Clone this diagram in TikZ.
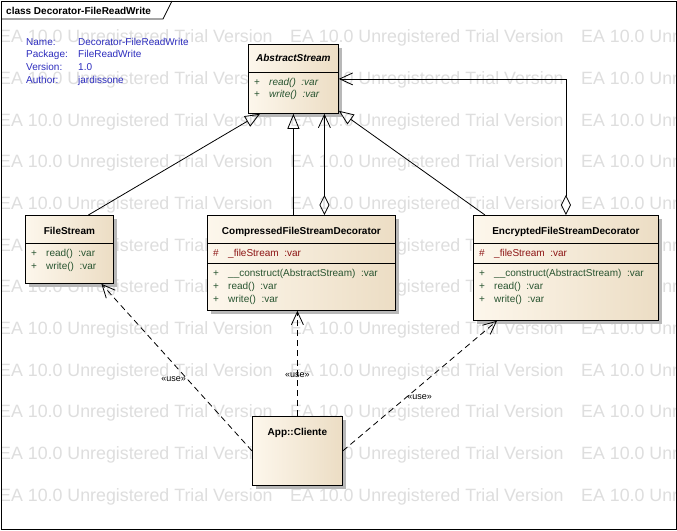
\documentclass[tikz,border=0pt]{standalone}
\usepackage{fontspec}
\setmainfont{Liberation Sans}
\usetikzlibrary{arrows.meta,shadows,calc}
\definecolor{boxleft}{RGB}{253,247,236}
\definecolor{boxright}{RGB}{236,221,196}
\definecolor{opgreen}{RGB}{40,84,48}
\definecolor{attred}{RGB}{140,20,20}
\definecolor{hdrblue}{RGB}{45,45,190}
\definecolor{wmgray}{RGB}{222,222,222}
\tikzset{
  cls/.style={draw, line width=0.8pt, left color=boxleft, right color=boxright,
    drop shadow={shadow xshift=3.5pt, shadow yshift=-3.5pt, fill=black!28, opacity=1},
    inner sep=0pt, anchor=north west},
  ctitle/.style={font=\fontsize{10}{12}\selectfont\bfseries, inner sep=0pt, text height=7pt, text depth=0pt},
  crow/.style={font=\fontsize{10}{12}\selectfont, inner sep=0pt, anchor=west, text=opgreen, text height=7pt, text depth=0pt},
  hdr/.style={font=\fontsize{10}{12}\selectfont, inner sep=0pt, anchor=west, text=hdrblue, text height=7pt, text depth=0pt},
  wm/.style={font=\fontsize{17.8}{20}\selectfont, text=wmgray, anchor=west, inner sep=0pt},
  gen/.style={line width=0.8pt, -{Triangle[open, length=15pt, width=12pt]}},
  agg/.style={line width=0.8pt, {Diamond[open, length=20pt, width=10pt]}-{Straight Barb[length=13pt, width=12pt]}},
  usedep/.style={line width=0.8pt, dash pattern=on 6pt off 4pt, -{Straight Barb[length=13pt, width=12pt]}},
  stereo/.style={font=\fontsize{9}{10}\selectfont, inner sep=1pt},
}
\begin{document}
\begin{tikzpicture}[x=1pt,y=-1pt]
\useasboundingbox (0,0) rectangle (677,530);
\fill[white] (0,0) rectangle (677,530);

\begin{scope}
  \clip (1,1) rectangle (676,529);
  \foreach \r in {0,...,11}
    \foreach \c in {0,1,2}
      \node[wm] (wm-\r-\c) at (-1+291*\c, 38+41.7*\r) {EA 10.0 Unregistered Trial Version};
\end{scope}

\draw[line width=0.8pt] (1,1) rectangle (676,529);
\draw[line width=0.8pt] (1,19) -- (163,19) -- (172,1);
\node[ctitle, anchor=west] (frame-t) at (6,11) {class Decorator-FileReadWrite};

\foreach \k/\v/\y in {Name:/Decorator-FileReadWrite/42, Package:/FileReadWrite/54, Version:/1.0/67, Author:/jardissone/80}{
  \node[hdr] (hk\y) at (26,\y) {\k};
  \node[hdr] (hv\y) at (78,\y) {\v};
}

% AbstractStream
\node[cls, minimum width=90, minimum height=69] (abs) at (248,44) {};
\node[ctitle] (abs-t) at ([yshift=-14pt]abs.north) {\itshape AbstractStream};
\draw ([yshift=-28pt]abs.north west) -- ([yshift=-28pt]abs.north east);
\node[crow] (abs-1) at ([xshift=6pt,yshift=-38pt]abs.north west) {\makebox[15pt][l]{+}\itshape read()~~:var};
\node[crow] (abs-2) at ([xshift=6pt,yshift=-50pt]abs.north west) {\makebox[15pt][l]{+}\itshape write()~~:var};

% FileStream
\node[cls, minimum width=88, minimum height=68] (fs) at (25,215) {};
\node[ctitle] (fs-t) at ([yshift=-16pt]fs.north) {FileStream};
\draw ([yshift=-28pt]fs.north west) -- ([yshift=-28pt]fs.north east);
\node[crow] (fs-1) at ([xshift=6pt,yshift=-38pt]fs.north west) {\makebox[15pt][l]{+}read()~~:var};
\node[crow] (fs-2) at ([xshift=6pt,yshift=-51pt]fs.north west) {\makebox[15pt][l]{+}write()~~:var};

% CompressedFileStreamDecorator
\node[cls, minimum width=188, minimum height=95] (cfs) at (207,215) {};
\node[ctitle] (cfs-t) at ([yshift=-16pt]cfs.north) {CompressedFileStreamDecorator};
\draw ([yshift=-28pt]cfs.north west) -- ([yshift=-28pt]cfs.north east);
\node[crow, text=attred] (cfs-a) at ([xshift=6pt,yshift=-38pt]cfs.north west) {\makebox[15pt][l]{\#}\_fileStream~~:var};
\draw ([yshift=-48pt]cfs.north west) -- ([yshift=-48pt]cfs.north east);
\node[crow] (cfs-1) at ([xshift=6pt,yshift=-58pt]cfs.north west) {\makebox[15pt][l]{+}\_\_construct(AbstractStream)~~:var};
\node[crow] (cfs-2) at ([xshift=6pt,yshift=-71pt]cfs.north west) {\makebox[15pt][l]{+}read()~~:var};
\node[crow] (cfs-3) at ([xshift=6pt,yshift=-84pt]cfs.north west) {\makebox[15pt][l]{+}write()~~:var};

% EncryptedFileStreamDecorator
\node[cls, minimum width=185, minimum height=105] (efs) at (473,215) {};
\node[ctitle] (efs-t) at ([yshift=-16pt]efs.north) {EncryptedFileStreamDecorator};
\draw ([yshift=-28pt]efs.north west) -- ([yshift=-28pt]efs.north east);
\node[crow, text=attred] (efs-a) at ([xshift=6pt,yshift=-38pt]efs.north west) {\makebox[15pt][l]{\#}\_fileStream~~:var};
\draw ([yshift=-48pt]efs.north west) -- ([yshift=-48pt]efs.north east);
\node[crow] (efs-1) at ([xshift=6pt,yshift=-58pt]efs.north west) {\makebox[15pt][l]{+}\_\_construct(AbstractStream)~~:var};
\node[crow] (efs-2) at ([xshift=6pt,yshift=-71pt]efs.north west) {\makebox[15pt][l]{+}read()~~:var};
\node[crow] (efs-3) at ([xshift=6pt,yshift=-84pt]efs.north west) {\makebox[15pt][l]{+}write()~~:var};

% App::Cliente
\node[cls, minimum width=90, minimum height=69] (app) at (252,416) {};
\node[ctitle] (app-t) at ([yshift=-16pt]app.north) {App::Cliente};

\draw[gen] ([xshift=19pt]fs.north) -- ([xshift=12pt]abs.south west);
\draw[gen] (abs.south |- cfs.north) -- (abs.south);
\draw[agg] ($(abs.south |- cfs.north)+(31,0)$) -- ($(abs.south)+(31,0)$);
\draw[gen] ([xshift=12pt]efs.north west) -- ([yshift=3pt]abs.south east);
\draw[agg] (efs.north) |- (abs.east);

\draw[usedep] (app.west) -- node[stereo, pos=0.43, anchor=east] (use1) {«use»} ([xshift=32pt]fs.south);
\draw[usedep] (app.north) -- node[stereo, pos=0.39] (use2) {«use»} (app.north |- cfs.south);
\draw[usedep] (app.east) -- node[stereo, pos=0.41, anchor=west] (use3) {«use»} ([xshift=24pt]efs.south west);
\end{tikzpicture}
\end{document}
